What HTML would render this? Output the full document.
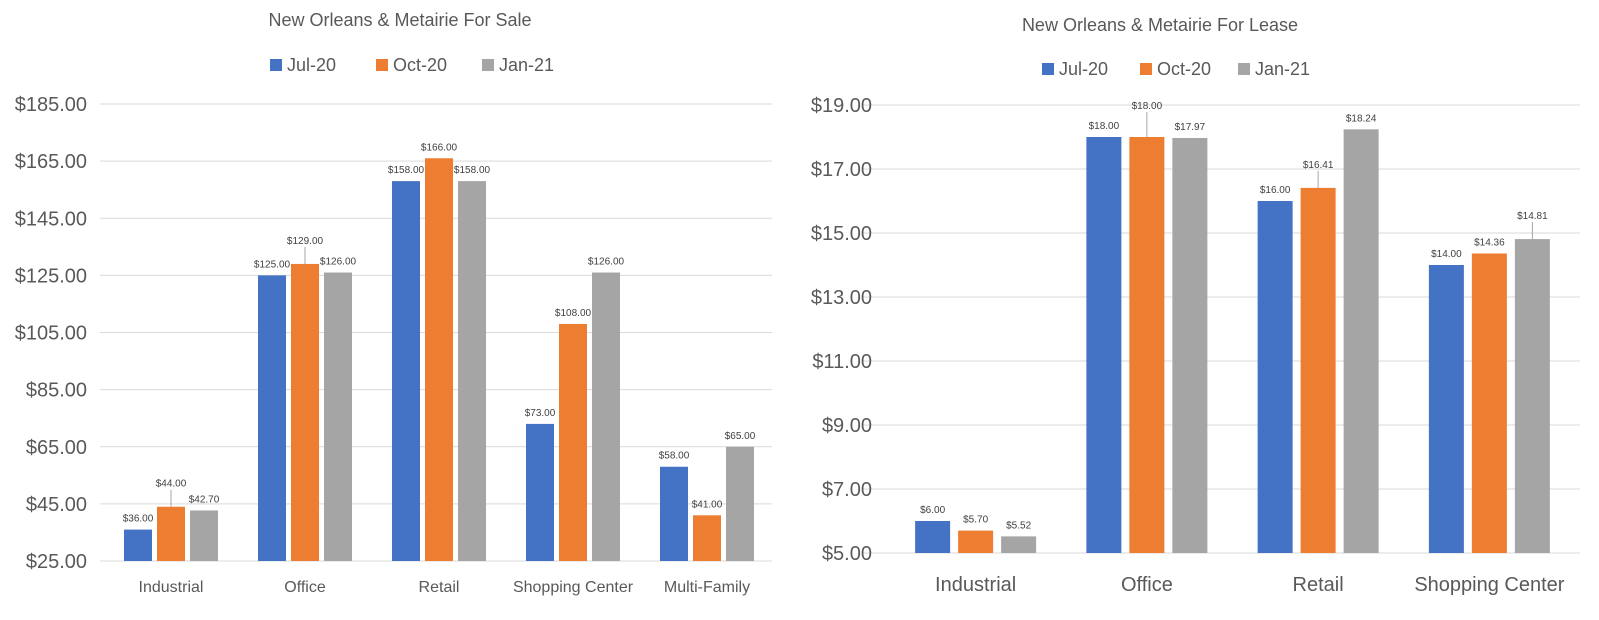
<!DOCTYPE html>
<html><head><meta charset="utf-8">
<style>
html,body{margin:0;padding:0;background:#fff;}
svg{display:block;font-family:"Liberation Sans",Calibri,sans-serif;}
</style></head>
<body>
<svg id="chart" width="1599" height="620" viewBox="0 0 1599 620" xmlns="http://www.w3.org/2000/svg"></svg>
<script>
const saleCategories = ["Industrial","Office","Retail","Shopping Center","Multi-Family"];
const saleJul20 = [36,125,158,73,58];
const saleOct20 = [44,129,166,108,41];
const saleJan21 = [42.70,126,158,126,65];
const saleTicks = [25,45,65,85,105,125,145,165,185];

const leaseCategories = ["Industrial","Office","Retail","Shopping Center"];
const leaseJul20 = [6.00,18.00,16.00,14.00];
const leaseOct20 = [5.70,18.00,16.41,14.36];
const leaseJan21 = [5.52,17.97,18.24,14.81];
const leaseTicks = [5,7,9,11,13,15,17,19];

const seriesNames = ["Jul-20","Oct-20","Jan-21"];
const colors = ["#4472C4","#ED7D31","#A5A5A5"];
const svg = document.getElementById('chart');
const NS = "http://www.w3.org/2000/svg";
function mk(tag, attrs, parent){
  const e = document.createElementNS(NS, tag);
  for (const k in attrs) e.setAttribute(k, attrs[k]);
  (parent||svg).appendChild(e);
  return e;
}

function drawChart(cfg){
  const g = mk('g', {});
  
  
  const yMin = cfg.ticks[0], yMax = cfg.ticks[cfg.ticks.length-1];
  const y = v => cfg.y0 - (v - yMin) / (yMax - yMin) * (cfg.y0 - cfg.y1);
  const step = (cfg.xEnd - cfg.xStart) / cfg.cats.length;
  const xc = i => cfg.xStart + step * (i + 0.5);

  const t = mk('text', {x: cfg.titleX, y: cfg.titleY, 'text-anchor':'middle', 'font-size':18, fill:'#595959'}, g);
  t.textContent = cfg.title;
  
  

  let lx = cfg.legendX;
  seriesNames.forEach((n, i) => {
    const lg = mk('g', {}, g);
    
    
    mk('rect', {x: lx, y: cfg.legendY - 12, width: 12, height: 12, fill: colors[i]}, lg);
    const lt = mk('text', {x: lx + 17, y: cfg.legendY, 'font-size':18, fill:'#595959'}, lg);
    lt.textContent = n;
    lx += cfg.legendGap;
  });

  cfg.ticks.forEach(v => {
    const gl = mk('line', {x1: cfg.gridX0, x2: cfg.gridX1, y1: y(v), y2: y(v), stroke:'#D9D9D9', 'stroke-width':1}, g);
    
    
    const tl = mk('text', {x: cfg.tickX, y: y(v) + 7, 'text-anchor':'end', 'font-size':20, fill:'#595959'}, g);
    tl.textContent = '$' + v.toFixed(2);
    
    
  });

  const series = cfg.series;
  cfg.cats.forEach((c, i) => {
    const cl = mk('text', {x: xc(i), y: cfg.catY, 'text-anchor':'middle', 'font-size':cfg.catSize, fill:'#595959'}, g);
    cl.textContent = c;
    
    
    series.forEach((s, j) => {
      const bx = xc(i) + (j - 1) * (cfg.barW + cfg.gap) - cfg.barW / 2;
      const top = y(s[i]);
      const r = mk('rect', {x: bx, y: top, width: cfg.barW, height: cfg.y0 - top, fill: colors[j]}, g);
      
      
      const key = i + '-' + j;
      const lift = cfg.lifted[key] || 0;
      const ly = top - 8 - lift;
      if (lift) mk('line', {x1: bx + cfg.barW/2, x2: bx + cfg.barW/2, y1: top, y2: ly + 3, stroke:'#A6A6A6', 'stroke-width':1}, g);
      const dl = mk('text', {x: bx + cfg.barW / 2, y: ly, 'text-anchor':'middle', 'font-size':10, fill:'#404040'}, g);
      dl.textContent = '$' + s[i].toFixed(2);
      
      
    });
  });
}

drawChart({
  name:'for-sale-chart', title:'New Orleans & Metairie For Sale', titleX:400, titleY:26,
  legendX:270, legendY:71, legendGap:106,
  cats: saleCategories, series:[saleJul20, saleOct20, saleJan21], ticks: saleTicks,
  y0:561, y1:104, xStart:104, xEnd:774, gridX0:100, gridX1:772, tickX:87,
  barW:28, gap:5, catY:592, catSize:16,
  lifted:{'0-1':12,'1-1':12}
});
drawChart({
  name:'for-lease-chart', title:'New Orleans & Metairie For Lease', titleX:1160, titleY:31,
  legendX:1042, legendY:75, legendGap:98,
  cats: leaseCategories, series:[leaseJul20, leaseOct20, leaseJan21], ticks: leaseTicks,
  y0:553, y1:105, xStart:890, xEnd:1575, gridX0:862, gridX1:1580, tickX:872,
  barW:35, gap:8, catY:591, catSize:20,
  lifted:{'1-1':20,'2-1':12,'3-2':12}
});
</script>
</body></html>
